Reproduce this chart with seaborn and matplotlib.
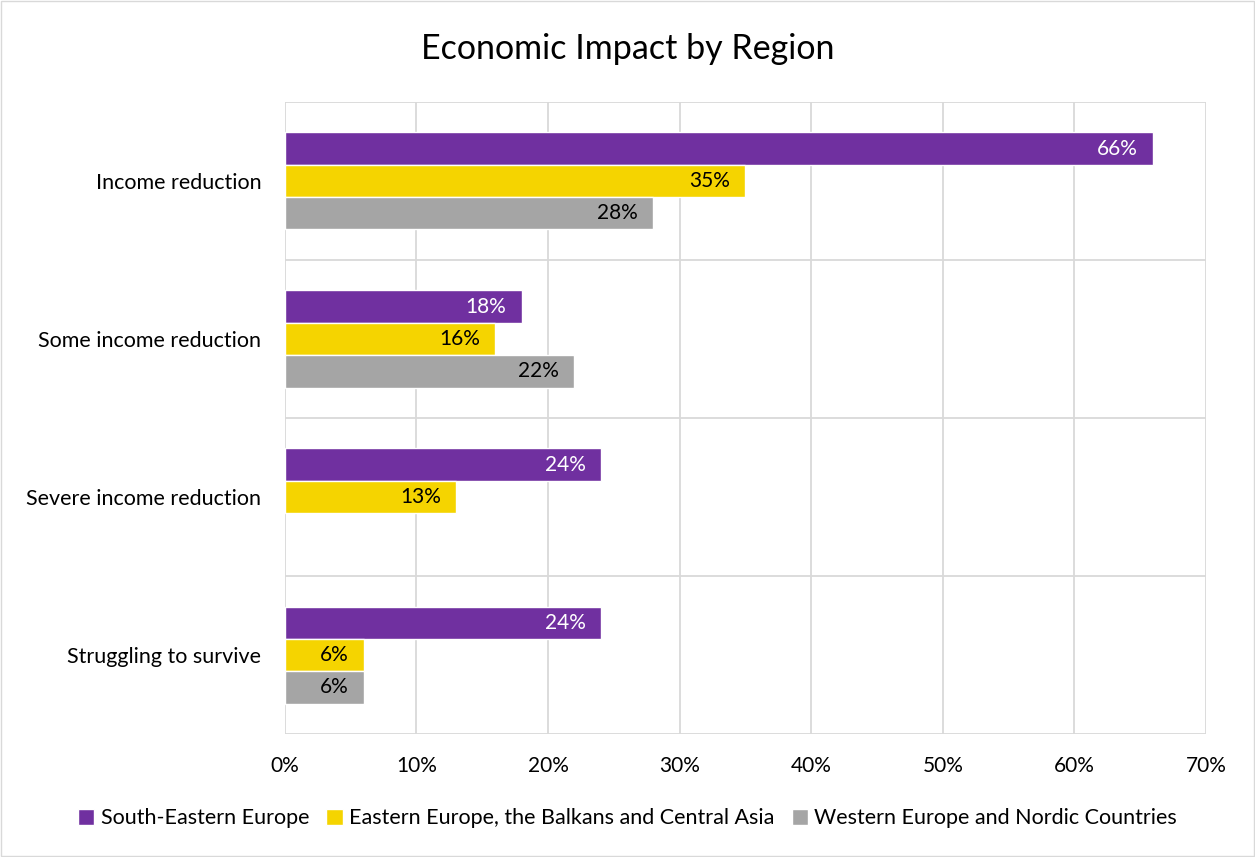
import numpy as np
import pandas as pd
import matplotlib
matplotlib.use("Agg")
import matplotlib.pyplot as plt
import seaborn as sns
from matplotlib.patches import Rectangle

categories = ["Income reduction", "Some income reduction", "Severe income reduction", "Struggling to survive"]
regions = ["South-Eastern Europe", "Eastern Europe, the Balkans and Central Asia", "Western Europe and Nordic Countries"]
south_eastern = [66, 18, 24, 24]
eastern = [35, 16, 13, 6]
western = [28, 22, np.nan, 6]
xticks = [0, 10, 20, 30, 40, 50, 60, 70]
colors = ["#7030A0", "#F5D400", "#A5A5A5"]
label_colors = ["white", "black", "black"]

rows = []
for reg, vals in zip(regions, [south_eastern, eastern, western]):
    for c, v in zip(categories, vals):
        if not np.isnan(v):
            rows.append({"cat": c, "region": reg, "val": v})
df = pd.DataFrame(rows)

sns.set_theme(style="white")
plt.rcParams['font.family'] = ['Lato', 'DejaVu Sans']
plt.rcParams['text.color'] = 'black'
plt.rcParams['xtick.color'] = 'black'
plt.rcParams['ytick.color'] = 'black'
plt.rcParams['xtick.labelcolor'] = 'black'
plt.rcParams['ytick.labelcolor'] = 'black'

fig = plt.figure(figsize=(12.55, 8.57), dpi=100)
ax = fig.add_axes([0.227, 0.1435, 0.734, 0.7375])

sns.barplot(data=df, y="cat", x="val", hue="region", order=categories, hue_order=regions,
            palette=colors, orient="h", width=0.614, errorbar=None, ax=ax, legend=True,
            saturation=1)

ax.set_xlim(0, 70)
ax.set_ylim(3.5, -0.5)
ax.set_xticks(xticks)
ax.set_xticklabels([f"{t}%" for t in xticks], fontsize=15)
ax.tick_params(axis="x", length=0, pad=16, labelcolor="black")
ax.tick_params(axis="y", length=0, pad=17, labelsize=15.5, labelcolor="black")
ax.set_xlabel("")
ax.set_ylabel("")
for s in ax.spines.values():
    s.set_visible(False)
ax.grid(False)
for t in xticks:
    ax.axvline(t, color="#D9D9D9", lw=1.3, zorder=0)
for y in np.arange(-0.5, 4.0, 1.0):
    ax.axhline(y, color="#D9D9D9", lw=1.3, zorder=0)

for cont, lc in zip(ax.containers, label_colors):
    labels = [f"{v:.0f}%" if not np.isnan(v) and v > 0 else "" for v in cont.datavalues]
    texts = ax.bar_label(cont, labels=labels, padding=-11, color=lc, fontsize=15, label_type="edge")
    for t in texts:
        t.set_horizontalalignment("right")

handles, labs = ax.get_legend_handles_labels()
ax.get_legend().remove()
fig.legend(handles, labs, loc="center", bbox_to_anchor=(0.5, 0.045), ncol=3, frameon=False,
           fontsize=15.5, handlelength=0.75, handleheight=0.75, handletextpad=0.3, columnspacing=0.8,
           labelcolor="black")

fig.suptitle("Economic Impact by Region", x=0.5, y=0.962, fontsize=24.5, color="black")

fig.patches.append(Rectangle((0.001, 0.001), 0.998, 0.998, transform=fig.transFigure,
                             fill=False, edgecolor="#D9D9D9", lw=1))

fig.savefig("out.png", dpi=100)
